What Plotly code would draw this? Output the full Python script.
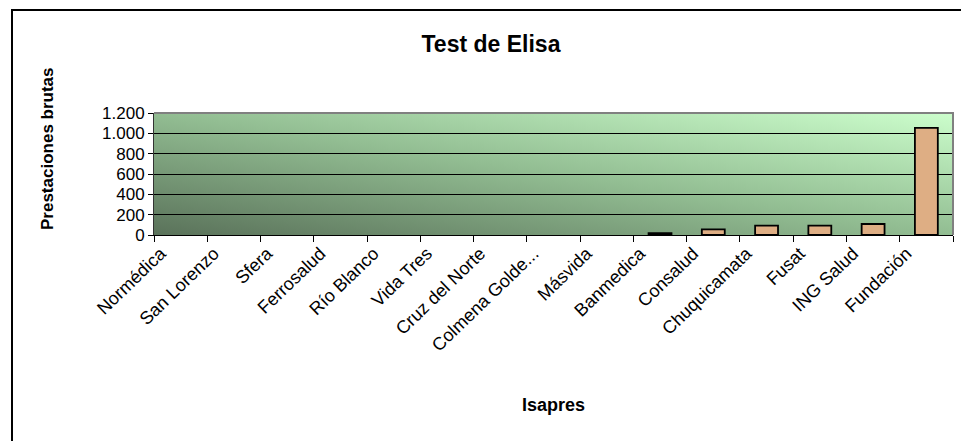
"""
Test de Elisa: prestaciones brutas por Isapre (barras con fondo degradado estilo Excel)
"""
import base64

import plotly.graph_objects as go

ISAPRES = [
    "Normédica", "San Lorenzo", "Sfera", "Ferrosalud", "Río Blanco",
    "Vida Tres", "Cruz del Norte", "Colmena Golde...", "Másvida", "Banmedica",
    "Consalud", "Chuquicamata", "Fusat", "ING Salud", "Fundación",
]
PRESTACIONES = [0, 0, 0, 0, 0, 0, 0, 0, 0, 18, 55, 92, 92, 108, 1053]
Y_TICKS = [0, 200, 400, 600, 800, 1000, 1200]

FONT = "Arial, Liberation Sans, sans-serif"

# Área de trazado en píxeles (medida sobre la captura), para ubicar marco y títulos
W, H = 961, 441
L, R, T, B = 154, 8, 113, 206
PW, PH = W - L - R, H - T - B


def px_x(x):
    return (x - L) / PW


def px_y(y):
    return (H - B - y) / PH


# Fondo degradado diagonal (verde oscuro abajo-izquierda -> verde claro arriba-derecha)
GRAD_SVG = """<svg xmlns='http://www.w3.org/2000/svg' width='100' height='100'
 viewBox='0 0 100 100' preserveAspectRatio='none'>
<defs><linearGradient id='g' x1='0' y1='1' x2='1' y2='0'>
<stop offset='0' stop-color='#5a725a'/>
<stop offset='0.5' stop-color='#92bd92'/>
<stop offset='1' stop-color='#ccfecc'/>
</linearGradient></defs>
<rect x='0' y='0' width='100' height='100' fill='url(#g)'/></svg>"""
GRAD_URI = "data:image/svg+xml;base64," + base64.b64encode(GRAD_SVG.encode()).decode()

fig = go.Figure(
    go.Bar(
        x=ISAPRES,
        y=PRESTACIONES,
        marker=dict(
            color="#deae84",
            # sin borde en las barras vacías (Excel no dibuja nada)
            line=dict(color="black", width=[1.8 if v else 0 for v in PRESTACIONES]),
        ),
        width=0.43,
    )
)

fig.update_layout(
    width=W,
    height=H,
    margin=dict(l=L, r=R, t=T, b=B, autoexpand=False),
    paper_bgcolor="white",
    plot_bgcolor="rgba(0,0,0,0)",
    separators=",.",
    font=dict(family=FONT, color="black"),
    showlegend=False,
    title=dict(
        text="<b>Test de Elisa</b>",
        font=dict(family=FONT, size=23, color="black"),
        x=491 / W, xanchor="center", xref="container",
        y=1 - 44 / H, yanchor="middle", yref="container",
    ),
    images=[
        dict(
            source=GRAD_URI, xref="paper", yref="paper", x=0, y=1,
            sizex=1, sizey=1, sizing="stretch", layer="below",
            xanchor="left", yanchor="top",
        )
    ],
    shapes=[
        # borde del gráfico (se sale por la derecha y abajo como en la captura)
        dict(
            type="rect", xref="paper", yref="paper",
            x0=px_x(12), x1=px_x(975), y0=px_y(460), y1=px_y(10),
            line=dict(color="black", width=2), fillcolor="rgba(0,0,0,0)", layer="above",
        ),
        # marco gris del área de trazado (arriba y derecha)
        dict(
            type="path", xref="paper", yref="paper",
            path="M 0 1 L 1 1 L 1 0",
            line=dict(color="#808080", width=2), layer="above",
        ),
    ],
    annotations=[
        dict(
            text="<b>Prestaciones brutas</b>", xref="paper", yref="paper",
            x=px_x(47), y=px_y(149), textangle=-90, showarrow=False,
            font=dict(family=FONT, size=17, color="black"),
            xanchor="center", yanchor="middle",
        ),
        dict(
            text="<b>Isapres</b>", xref="paper", yref="paper",
            x=px_x(553), y=px_y(405), showarrow=False,
            font=dict(family=FONT, size=18, color="black"),
            xanchor="center", yanchor="middle",
        ),
    ],
    xaxis=dict(
        type="category",
        tickangle=-44,
        tickson="boundaries",
        ticks="outside",
        ticklen=6,
        tickcolor="black",
        tickfont=dict(family=FONT, size=18, color="black"),
        ticklabelshift=-20,
        showline=True,
        linecolor="black",
        linewidth=1,
        showgrid=False,
        zeroline=False,
    ),
    yaxis=dict(
        range=[0, 1200],
        tickmode="array",
        tickvals=Y_TICKS,
        tickformat=",d",
        ticks="outside",
        ticklen=5,
        tickcolor="black",
        tickfont=dict(family=FONT, size=17, color="black"),
        showline=True,
        linecolor="#333333",
        linewidth=1,
        showgrid=True,
        gridcolor="black",
        gridwidth=1,
        zeroline=False,
    ),
)

# la página HTML trae 8 px de margen en <body>; se quita para que calce con la captura
fig.write_html(
    "out.html",
    config={"displayModeBar": False},
    post_script="document.body.style.margin='0';",
)
